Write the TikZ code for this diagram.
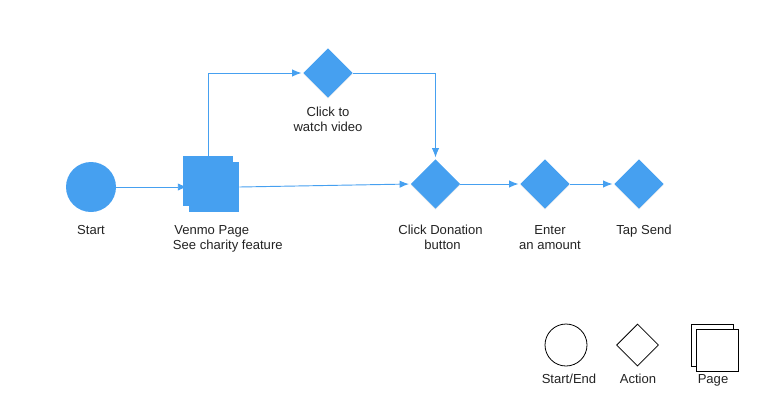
\documentclass[tikz,border=0pt]{standalone}
\usepackage{fontspec}
\setmainfont{Liberation Sans}
\usetikzlibrary{shapes,arrows.meta,positioning,shadows,backgrounds}
\definecolor{flowblue}{RGB}{70,160,240}
\definecolor{labeltext}{RGB}{35,35,35}
\tikzset{
  startnode/.style={circle,fill=flowblue,minimum size=37.5pt,inner sep=0pt},
  actionnode/.style={diamond,aspect=1,fill=flowblue,minimum size=37pt,inner sep=0pt,drop shadow={shadow xshift=0pt,shadow yshift=-.8pt,opacity=.15}},
  pagenode/.style={rectangle,fill=flowblue,minimum size=37.5pt,inner sep=0pt},
  keystart/.style={circle,draw=black,fill=white,line width=.6pt,minimum size=31.5pt,inner sep=0pt},
  keyaction/.style={diamond,aspect=1,draw=black,fill=white,line width=.6pt,minimum size=31.5pt,inner sep=0pt,drop shadow={shadow xshift=0pt,shadow yshift=-1pt,opacity=.2}},
  keypage/.style={rectangle,draw=black,fill=white,line width=.75pt,minimum size=31.5pt,inner sep=0pt},
  caption/.style={anchor=north,inner sep=0pt,align=center,text=labeltext,font=\fontsize{9.8pt}{11.25pt}\selectfont},
  flow/.style={draw=flowblue,line width=.7pt,-{Latex[length=7pt,width=5.5pt]},shorten >=1.2pt}
}
\begin{document}
\begin{tikzpicture}[x=.75pt,y=-.75pt]
  \useasboundingbox (0,0) rectangle (766,415);
  \node [startnode] (start) at (91,187) {};
  \node [pagenode] (pageback) at (208,181) {};
  \node [pagenode] (pagefront) at (214,187) {};
  \node [actionnode] (video) at (328,73) {};
  \node [actionnode] (donation) at (435.5,184) {};
  \node [actionnode] (amount) at (545,184) {};
  \node [actionnode] (send) at (639,184) {};

  \node [caption] (startlabel) at (91,225) {Start};
  \node [caption,anchor=north west,align=left] (pagelabel) at (172.7,225) {\hspace{1pt}Venmo Page\\See charity feature};
  \node [caption] (videolabel) at (328,107) {Click to\\watch video};
  \node [caption] (donationlabel) at (440.5,225) {Click Donation\\\hspace{3pt}button};
  \node [caption] (amountlabel) at (550,225) {Enter\\an amount};
  \node [caption] (sendlabel) at (644,225) {Tap Send};

  \begin{scope}[on background layer]
    \draw [flow] (start.east) -- (pagefront.west);
    \draw [flow] (pageback.north) |- (video.west);
    \draw [flow] (video.east) -| (donation.north);
    \draw [flow] (pagefront.east) -- (donation.west);
    \draw [flow] (donation.east) -- (amount.west);
    \draw [flow] (amount.east) -- (send.west);
  \end{scope}

  \node [keystart] (keycircle) at (566,345) {};
  \node [keyaction] (keydiamond) at (637.5,345) {};
  \node [keypage] (keyback) at (712.5,345) {};
  \node [keypage] (keyfront) at (717.5,350) {};
  \node [caption] (keycirclelabel) at (569,374) {Start/End};
  \node [caption] (keydiamondlabel) at (638,374) {Action};
  \node [caption] (keypagelabel) at (713,374) {Page};
\end{tikzpicture}
\end{document}
